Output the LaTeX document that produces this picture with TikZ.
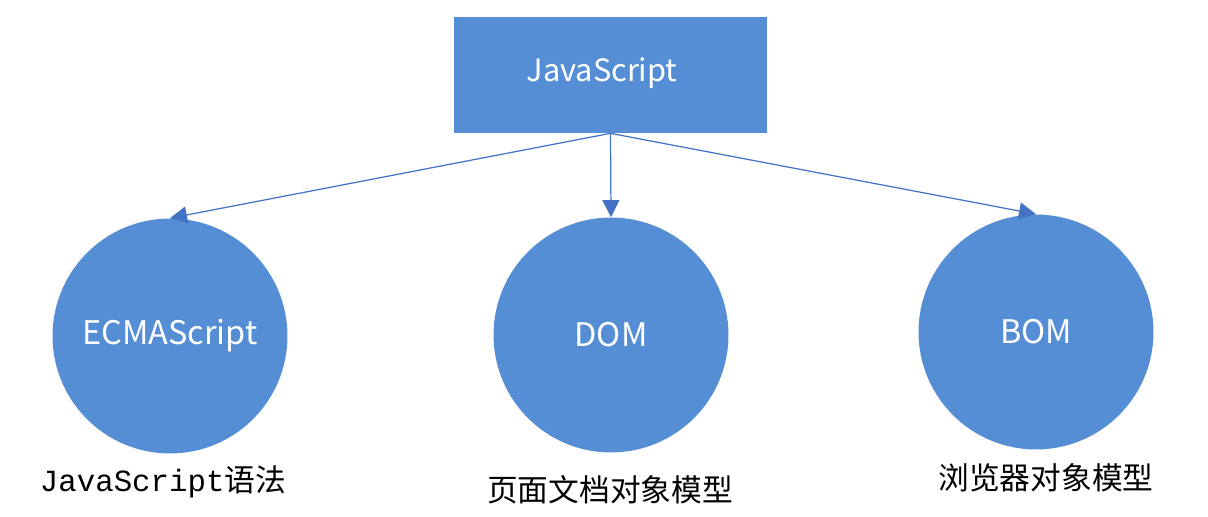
\documentclass[tikz,border=0pt]{standalone}
\usepackage{fontspec}
\setmainfont{Noto Sans CJK SC}
\newfontfamily\monofont{Liberation Mono}
\usetikzlibrary{arrows.meta}
\definecolor{partblue}{RGB}{85,142,213}
\definecolor{lineblue}{RGB}{68,114,196}

\begin{document}
\begin{tikzpicture}[x=0.02cm,y=-0.02cm,
  part/.style={circle,fill=partblue,minimum size=4.7cm,inner sep=0pt,text=white,font=\fontsize{18.5}{20}\selectfont},
  caption/.style={inner sep=0pt,font=\fontsize{17.5}{20}\selectfont},
  link/.style={draw=lineblue,line width=0.7pt,-{Triangle[length=0.34cm,width=0.34cm]}}]
\useasboundingbox (0,0) rectangle (1208,517);
\node[fill=partblue,minimum width=6.26cm,minimum height=2.32cm,inner sep=0pt] (js) at (610.5,75) {};
\node[text=white,font=\fontsize{17.5}{20}\selectfont] (jstext) at (602,73) {JavaScript};
\node[part] (ecma) at (170,336) {ECMAScript};
\node[part] (dom) at (611,335) {DOM};
\node[part] (bom) at (1036,332) {BOM};
\draw[link] (js.south) -- (ecma.north);
\draw[link] (js.south) -- (dom.north);
\draw[link] (js.south) -- (bom.north);
% captions under the circles
\node[caption] (ecmatext) at (163,482) {{\monofont JavaScript}语法};
\node[caption] (domtext) at (610,490) {页面文档对象模型};
\node[caption] (bomtext) at (1046,478) {浏览器对象模型};
\end{tikzpicture}
\end{document}
